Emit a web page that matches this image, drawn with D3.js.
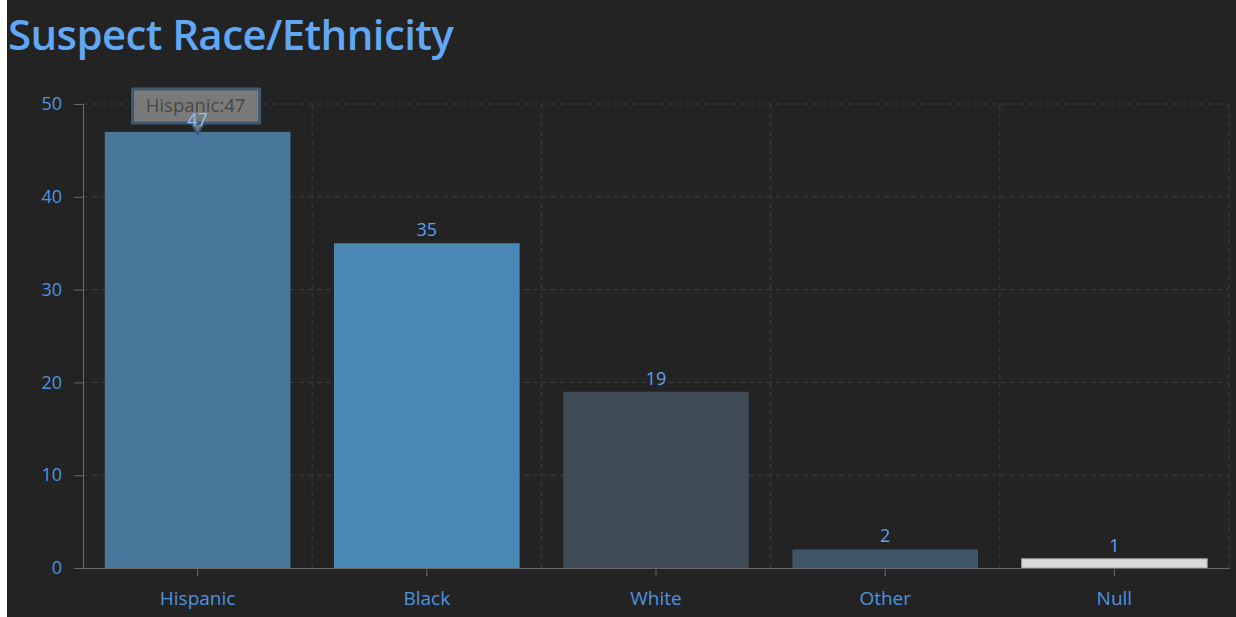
<!DOCTYPE html>
<html><head><meta charset="utf-8">
<script src="https://cdn.jsdelivr.net/npm/d3@7"></script>
<style>
html,body{margin:0;padding:0;background:#ffffff;}
svg{display:block;}
</style></head>
<body>
<svg id="chart" width="1236" height="617"></svg>
<script>
const categories = ["Hispanic", "Black", "White", "Other", "Null"];
const values = [47, 35, 19, 2, 1];
const barColors = ["#47779b", "#4a88b6", "#3f4b55", "#3f5566", "#d9d9d9"];
const yTicks = [0, 10, 20, 30, 40, 50];
const title = "Suspect Race/Ethnicity";
const tooltipText = "Hispanic:47";

const W = 1236, H = 617;
const svg = d3.select("#chart");
svg.append("rect").attr("x", 7).attr("y", 0).attr("width", W - 7).attr("height", H).attr("fill", "#232323");

const font = "'Open Sans', Lato, sans-serif";
svg.append("text").attr("x", 8).attr("y", 50).text(title)
  .attr("fill", "#62a7f4").attr("font-family", font).attr("font-weight", 600).attr("font-size", 42)
  .attr("letter-spacing", -0.6);

const mLeft = 83, mRight = 1229, mTop = 104, mBottom = 568;
const x = d3.scaleBand().domain(categories).range([mLeft, mRight]).padding(0);
const y = d3.scaleLinear().domain([0, 50]).range([mBottom, mTop]);

const grid = svg.append("g");
grid.selectAll("line.h").data(yTicks.filter(d => d > 0)).enter().append("line")
  .attr("x1", mLeft).attr("x2", mRight).attr("y1", d => y(d)).attr("y2", d => y(d))
  .attr("stroke", "#3e3e3e").attr("stroke-dasharray", "5,4").attr("stroke-width", 1);
grid.selectAll("line.v").data(categories).enter().append("line")
  .attr("x1", d => x(d) + x.bandwidth()).attr("x2", d => x(d) + x.bandwidth())
  .attr("y1", mTop).attr("y2", mBottom)
  .attr("stroke", "#3e3e3e").attr("stroke-dasharray", "5,4").attr("stroke-width", 1);

const bw = x.bandwidth() * 0.81;
svg.selectAll("rect.bar").data(categories).enter().append("rect")
  .attr("x", d => x(d) + (x.bandwidth() - bw) / 2)
  .attr("y", (d, i) => y(values[i]))
  .attr("width", bw)
  .attr("height", (d, i) => mBottom - y(values[i]))
  .attr("fill", (d, i) => barColors[i])
  .attr("stroke", (d, i) => i === 4 ? "#9a9a9a" : "none").attr("stroke-width", 1);

const yAxis = d3.axisLeft(y).tickValues(yTicks).tickSize(9).tickPadding(12);
const gy = svg.append("g").attr("transform", `translate(${mLeft},0)`).call(yAxis);
gy.select(".domain").attr("stroke", "#6a6a6a");
gy.selectAll(".tick line").attr("stroke", "#6a6a6a");
gy.selectAll(".tick text").attr("fill", "#4d93e0").attr("font-family", font).attr("font-size", 18);

const xAxis = d3.axisBottom(x).tickSize(8).tickSizeOuter(0).tickPadding(16);
const gx = svg.append("g").attr("transform", `translate(0,${mBottom})`).call(xAxis);
gx.select(".domain").attr("stroke", "#6a6a6a");
gx.selectAll(".tick line").attr("stroke", "#6a6a6a");
gx.selectAll(".tick text").attr("fill", "#4d93e0").attr("font-family", font).attr("font-size", 19);

svg.selectAll("text.val").data(categories).enter().append("text")
  .attr("x", d => x(d) + x.bandwidth() / 2)
  .attr("y", (d, i) => y(values[i]) - 7)
  .attr("text-anchor", "middle")
  .attr("fill", "#5fa0ec").attr("font-family", font).attr("font-size", 18)
  .text((d, i) => i === 0 ? "" : values[i]);

const cx = x(categories[0]) + x.bandwidth() / 2;
const ty = y(values[0]);
const tip = svg.append("g");
tip.append("path")
  .attr("d", `M${cx - 7},${ty - 10} L${cx},${ty + 2} L${cx + 7},${ty - 10} Z`)
  .attr("fill", "#6f7b86").attr("stroke", "#3e5a73").attr("stroke-width", 2);
tip.append("rect").attr("x", cx - 65).attr("y", 89).attr("width", 127).attr("height", 34)
  .attr("fill", "#7a7a7a").attr("stroke", "#3e5a73").attr("stroke-width", 3);
tip.append("text").attr("x", cx - 2).attr("y", 112).attr("text-anchor", "middle")
  .attr("fill", "#474747").attr("font-family", font).attr("font-size", 18.5).text(tooltipText);
svg.append("text").attr("x", cx).attr("y", ty - 6).attr("text-anchor", "middle")
  .attr("fill", "#8ec2f7").attr("font-family", font).attr("font-size", 18).text(values[0]);
</script>
</body></html>
